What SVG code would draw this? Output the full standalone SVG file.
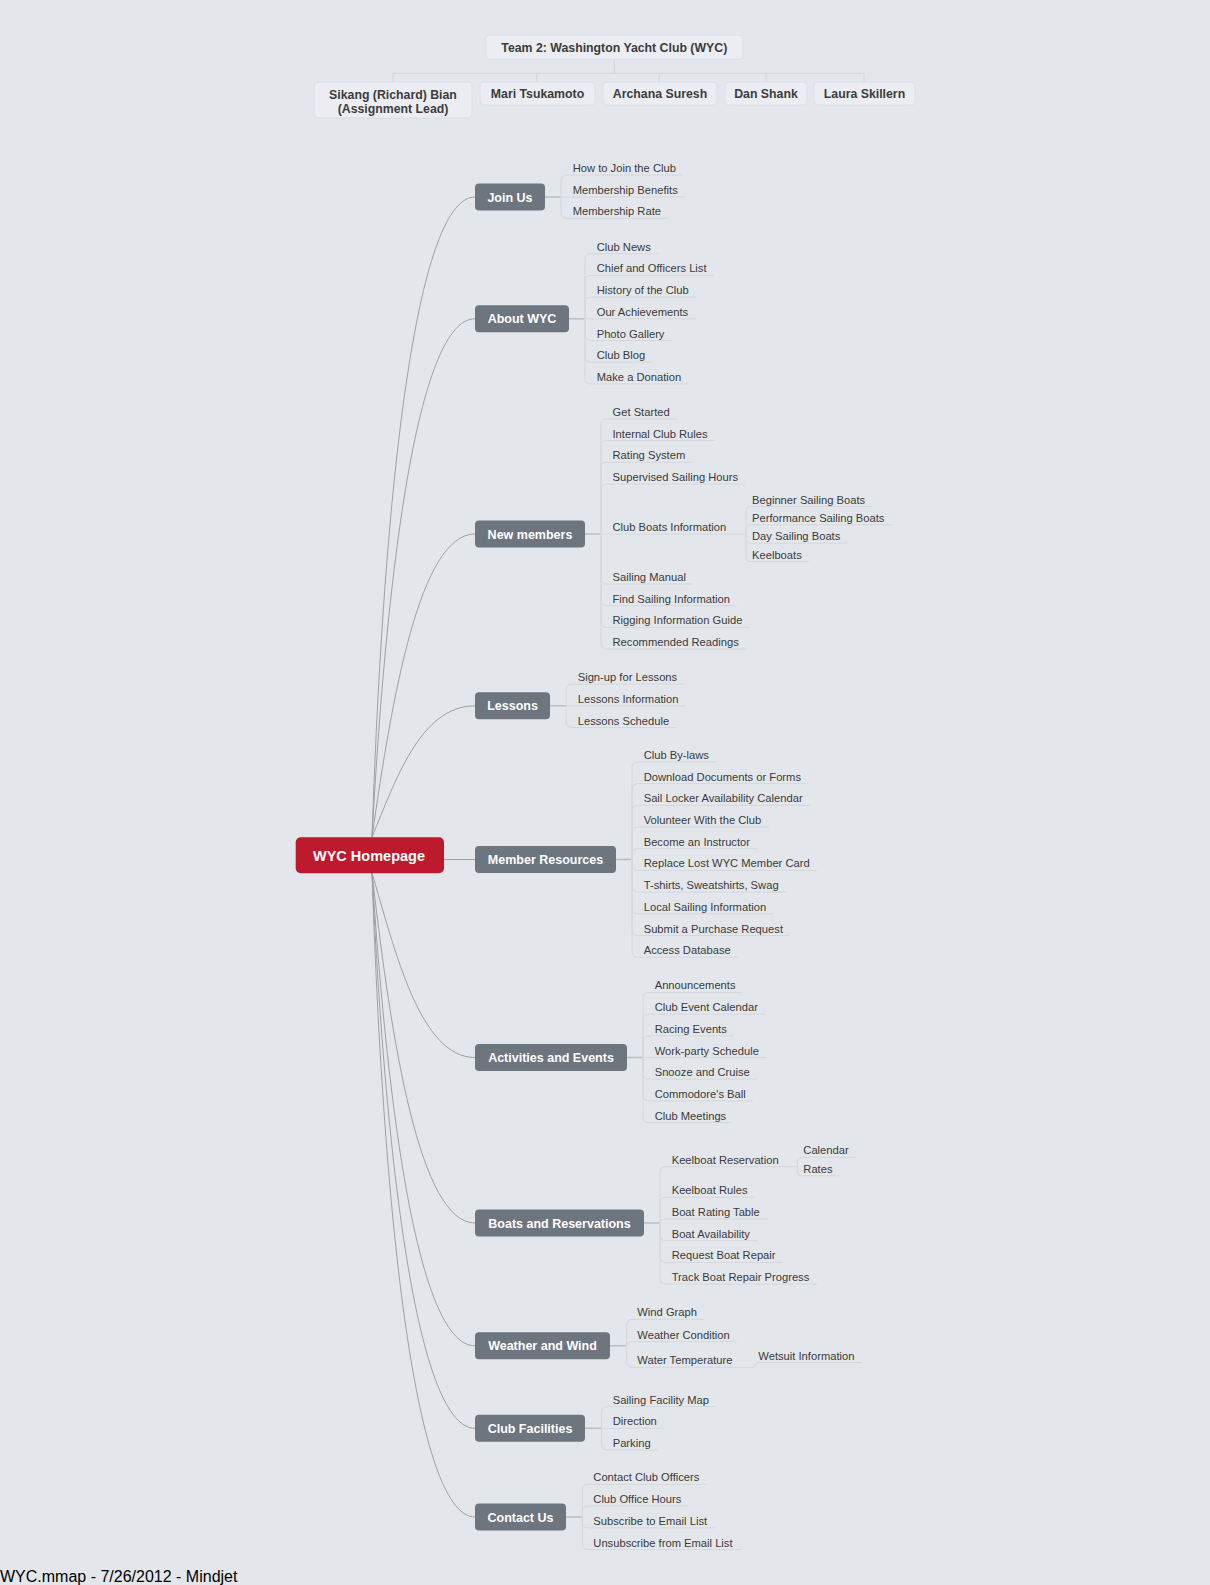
<svg xmlns="http://www.w3.org/2000/svg" width="1210" height="1585" viewBox="0 0 1210 1585">
<style>
text{font-family:"Liberation Sans",Arial,sans-serif}
.bg{fill:#e3e7eb}
.tbox{fill:#ebedf2;stroke:#dcdfe5;stroke-width:1}
.ttxt{font-size:12.3px;font-weight:bold;fill:#3c3c3c;text-anchor:middle}
.tline{fill:none;stroke:#d2d5da;stroke-width:1}
.main{fill:none;stroke:#9da1a6;stroke-width:1}
.pc{fill:none;stroke:#bcc0c5;stroke-width:1.6}
.ul{fill:none;stroke:#d4d8dc;stroke-width:1}
.br rect{fill:#6d757e}
.br text{font-size:12.5px;font-weight:bold;fill:#ffffff;text-anchor:middle}
.lf{font-size:11.2px;fill:#3a3a3a}
.root rect{fill:#bd1a2d}
.root text{font-size:14.5px;font-weight:bold;fill:#ffffff;text-anchor:middle}
.foot{font-size:16px;fill:#000000}
</style>
<rect class="bg" x="0" y="0" width="1210" height="1585"/>

<g id="connectors">
  <path class="tline" d="M614.3 59.3 L614.3 73.3 M393 73.3 L864 73.3 M393 73.3 L393 82 M536.7 73.3 L536.7 82 M659 73.3 L659 82 M766 73.3 L766 82 M864 73.3 L864 82"/>
  <path class="main" d="M372 837 C385 453.3 420 197 475 197"/>
  <path class="main" d="M372 837 C387.6 551 420 318.8 475 318.8"/>
  <path class="main" d="M372 837 C392.3 695.2 420 534 475 534"/>
  <path class="main" d="M372 837 C395 782 420 705.8 475 705.8"/>
  <path class="main" d="M444 859.5 L475 859.5"/>
  <path class="main" d="M372 873 C395 950.5 420 1057.5 475 1057.5"/>
  <path class="main" d="M372 873 C391.3 1043.4 420 1223 475 1223"/>
  <path class="main" d="M372 873 C388.6 1126 420 1345.8 475 1345.8"/>
  <path class="main" d="M372 873 C386.8 1187.7 420 1428.3 475 1428.3"/>
  <path class="main" d="M372 873 C385 1259.4 420 1517 475 1517"/>
  <path class="pc" d="M545 197 L561 197"/>
  <path class="ul" d="M561 197 L561 181 Q561 175 567 175 L683 175"/>
  <path class="ul" d="M561 197 L685 197"/>
  <path class="ul" d="M561 197 L561 212.3 Q561 218.3 567 218.3 L668 218.3"/>
  <path class="pc" d="M569 318.8 L585 318.8"/>
  <path class="ul" d="M585 318.8 L585 259.7 Q585 253.7 591 253.7 L657.8 253.7"/>
  <path class="ul" d="M585 318.8 L585 281.4 Q585 275.4 591 275.4 L713.9 275.4"/>
  <path class="ul" d="M585 318.8 L585 303.1 Q585 297.1 591 297.1 L695.8 297.1"/>
  <path class="ul" d="M585 318.8 L695.8 318.8"/>
  <path class="ul" d="M585 318.8 L585 334.5 Q585 340.5 591 340.5 L671.5 340.5"/>
  <path class="ul" d="M585 318.8 L585 356.2 Q585 362.2 591 362.2 L652.3 362.2"/>
  <path class="ul" d="M585 318.8 L585 377.9 Q585 383.9 591 383.9 L688.4 383.9"/>
  <path class="pc" d="M585 534 L601 534"/>
  <path class="ul" d="M601 534 L601 424.9 Q601 418.9 607 418.9 L676.8 418.9"/>
  <path class="ul" d="M601 534 L601 446.6 Q601 440.6 607 440.6 L714.7 440.6"/>
  <path class="ul" d="M601 534 L601 468.3 Q601 462.3 607 462.3 L692.3 462.3"/>
  <path class="ul" d="M601 534 L601 490 Q601 484 607 484 L745.2 484"/>
  <path class="ul" d="M601 534 L746 534"/>
  <path class="ul" d="M601 534 L601 578 Q601 584 607 584 L692.9 584"/>
  <path class="ul" d="M601 534 L601 599.7 Q601 605.7 607 605.7 L737.1 605.7"/>
  <path class="ul" d="M601 534 L601 621.4 Q601 627.4 607 627.4 L749.6 627.4"/>
  <path class="ul" d="M601 534 L601 643.1 Q601 649.1 607 649.1 L745.9 649.1"/>
  <path class="ul" d="M746 534 L746 511.5 Q746 506.5 751 506.5 L872.3 506.5"/>
  <path class="ul" d="M746 534 L746 529.8 Q746 524.8 751 524.8 L891.6 524.8"/>
  <path class="ul" d="M746 534 L746 538.2 Q746 543.2 751 543.2 L847.4 543.2"/>
  <path class="ul" d="M746 534 L746 556.5 Q746 561.5 751 561.5 L808.8 561.5"/>
  <path class="pc" d="M550 705.8 L566 705.8"/>
  <path class="ul" d="M566 705.8 L566 690.1 Q566 684.1 572 684.1 L684.3 684.1"/>
  <path class="ul" d="M566 705.8 L685.5 705.8"/>
  <path class="ul" d="M566 705.8 L566 721.5 Q566 727.5 572 727.5 L676.2 727.5"/>
  <path class="pc" d="M616 859.5 L632 859.5"/>
  <path class="ul" d="M632 859.5 L632 767.9 Q632 761.9 638 761.9 L716 761.9"/>
  <path class="ul" d="M632 859.5 L632 789.6 Q632 783.6 638 783.6 L808.2 783.6"/>
  <path class="ul" d="M632 859.5 L632 811.3 Q632 805.3 638 805.3 L810.7 805.3"/>
  <path class="ul" d="M632 859.5 L632 833 Q632 827 638 827 L769 827"/>
  <path class="ul" d="M632 859.5 L632 854.7 Q632 848.7 638 848.7 L757.1 848.7"/>
  <path class="ul" d="M632 859.5 L632 864.4 Q632 870.4 638 870.4 L816.9 870.4"/>
  <path class="ul" d="M632 859.5 L632 886.1 Q632 892.1 638 892.1 L786.4 892.1"/>
  <path class="ul" d="M632 859.5 L632 907.8 Q632 913.8 638 913.8 L773.3 913.8"/>
  <path class="ul" d="M632 859.5 L632 929.5 Q632 935.5 638 935.5 L790.1 935.5"/>
  <path class="ul" d="M632 859.5 L632 951.2 Q632 957.2 638 957.2 L737.8 957.2"/>
  <path class="pc" d="M627 1057.5 L643 1057.5"/>
  <path class="ul" d="M643 1057.5 L643 998.4 Q643 992.4 649 992.4 L742.6 992.4"/>
  <path class="ul" d="M643 1057.5 L643 1020.1 Q643 1014.1 649 1014.1 L765 1014.1"/>
  <path class="ul" d="M643 1057.5 L643 1041.8 Q643 1035.8 649 1035.8 L733.9 1035.8"/>
  <path class="ul" d="M643 1057.5 L766.3 1057.5"/>
  <path class="ul" d="M643 1057.5 L643 1073.2 Q643 1079.2 649 1079.2 L756.9 1079.2"/>
  <path class="ul" d="M643 1057.5 L643 1094.9 Q643 1100.9 649 1100.9 L752.8 1100.9"/>
  <path class="ul" d="M643 1057.5 L643 1116.6 Q643 1122.6 649 1122.6 L732.2 1122.6"/>
  <path class="pc" d="M644 1223 L660 1223"/>
  <path class="ul" d="M660 1223 L660 1172.7 Q660 1166.7 666 1166.7 L797.3 1166.7"/>
  <path class="ul" d="M797.3 1166.7 L797.3 1161.3 Q797.3 1157.3 801.3 1157.3 L855.7 1157.3"/>
  <path class="ul" d="M797.3 1166.7 L797.3 1171.7 Q797.3 1175.7 801.3 1175.7 L839.6 1175.7"/>
  <path class="ul" d="M660 1223 L660 1203.3 Q660 1197.3 666 1197.3 L754.6 1197.3"/>
  <path class="ul" d="M660 1223 Q660 1219 666 1219 L768.3 1219"/>
  <path class="ul" d="M660 1223 L660 1234.7 Q660 1240.7 666 1240.7 L757.7 1240.7"/>
  <path class="ul" d="M660 1223 L660 1256.4 Q660 1262.4 666 1262.4 L782.7 1262.4"/>
  <path class="ul" d="M660 1223 L660 1278.1 Q660 1284.1 666 1284.1 L816.9 1284.1"/>
  <path class="pc" d="M610 1345.8 L626.7 1345.8"/>
  <path class="ul" d="M626.7 1345.8 L626.7 1325.3 Q626.7 1319.3 632.7 1319.3 L704.1 1319.3"/>
  <path class="ul" d="M626.7 1345.8 Q626.7 1341.7 632.7 1341.7 L737 1341.7"/>
  <path class="ul" d="M626.7 1345.8 L626.7 1361.3 Q626.7 1367.3 632.7 1367.3 L753 1367.3"/>
  <path class="ul" d="M753 1367.3 C756 1367.3 755 1362.5 759 1362.5 L861.8 1362.5"/>
  <path class="pc" d="M585 1428.3 L601.7 1428.3"/>
  <path class="ul" d="M601.7 1428.3 L601.7 1412.6 Q601.7 1406.6 607.7 1406.6 L716.2 1406.6"/>
  <path class="ul" d="M601.7 1428.3 L663.9 1428.3"/>
  <path class="ul" d="M601.7 1428.3 L601.7 1444 Q601.7 1450 607.7 1450 L657.7 1450"/>
  <path class="pc" d="M566 1517 L582.3 1517"/>
  <path class="ul" d="M582.3 1517 L582.3 1490.4 Q582.3 1484.4 588.3 1484.4 L706.7 1484.4"/>
  <path class="ul" d="M582.3 1517 L582.3 1512.1 Q582.3 1506.1 588.3 1506.1 L688.7 1506.1"/>
  <path class="ul" d="M582.3 1517 L582.3 1521.9 Q582.3 1527.9 588.3 1527.9 L714.2 1527.9"/>
  <path class="ul" d="M582.3 1517 L582.3 1543.6 Q582.3 1549.6 588.3 1549.6 L741.6 1549.6"/>
</g>

<g id="team"><rect class="tbox" x="485.7" y="35" width="257.3" height="24.3" rx="4"/><text class="ttxt" x="614.3" y="52">Team 2: Washington Yacht Club (WYC)</text></g>
<g id="member-bian"><rect class="tbox" x="314" y="82" width="158" height="36" rx="5"/><text class="ttxt" x="393" y="98.5">Sikang (Richard) Bian</text><text class="ttxt" x="393" y="112.5">(Assignment Lead)</text></g>
<g id="member-tsukamoto"><rect class="tbox" x="480" y="82" width="115" height="23" rx="4"/><text class="ttxt" x="537.5" y="98">Mari Tsukamoto</text></g>
<g id="member-suresh"><rect class="tbox" x="603" y="82" width="114" height="23" rx="4"/><text class="ttxt" x="660" y="98">Archana Suresh</text></g>
<g id="member-shank"><rect class="tbox" x="725" y="82" width="82" height="23" rx="4"/><text class="ttxt" x="766" y="98">Dan Shank</text></g>
<g id="member-skillern"><rect class="tbox" x="814" y="82" width="101" height="23" rx="4"/><text class="ttxt" x="864.5" y="98">Laura Skillern</text></g>

<g id="wyc-homepage" class="root"><rect x="295.7" y="837.3" width="148.3" height="36" rx="5"/><text x="369" y="860.8">WYC Homepage</text></g>

<g id="join-us" class="br"><rect x="475" y="183.5" width="70" height="27" rx="4"/><text x="510" y="201.5">Join Us</text></g>
<g id="about-wyc" class="br"><rect x="475" y="305.3" width="94" height="27" rx="4"/><text x="522" y="323.3">About WYC</text></g>
<g id="new-members" class="br"><rect x="475" y="520.5" width="110" height="27" rx="4"/><text x="530" y="538.5">New members</text></g>
<g id="lessons" class="br"><rect x="475" y="692.3" width="75" height="27" rx="4"/><text x="512.5" y="710.3">Lessons</text></g>
<g id="member-resources" class="br"><rect x="475" y="846" width="141" height="27" rx="4"/><text x="545.5" y="864">Member Resources</text></g>
<g id="activities-events" class="br"><rect x="475" y="1044" width="152" height="27" rx="4"/><text x="551" y="1062">Activities and Events</text></g>
<g id="boats-reservations" class="br"><rect x="475" y="1209.5" width="169" height="27" rx="4"/><text x="559.5" y="1227.5">Boats and Reservations</text></g>
<g id="weather-wind" class="br"><rect x="475" y="1332.3" width="135" height="27" rx="4"/><text x="542.5" y="1350.3">Weather and Wind</text></g>
<g id="club-facilities" class="br"><rect x="475" y="1414.8" width="110" height="27" rx="4"/><text x="530" y="1432.8">Club Facilities</text></g>
<g id="contact-us" class="br"><rect x="475" y="1503.5" width="91" height="27" rx="4"/><text x="520.5" y="1521.5">Contact Us</text></g>

<g id="how-to-join"><text class="lf" x="572.7" y="172">How to Join the Club</text></g>
<g id="membership-benefits"><text class="lf" x="572.7" y="194">Membership Benefits</text></g>
<g id="membership-rate"><text class="lf" x="572.7" y="215.3">Membership Rate</text></g>
<g id="club-news"><text class="lf" x="596.7" y="250.7">Club News</text></g>
<g id="chief-officers"><text class="lf" x="596.7" y="272.4">Chief and Officers List</text></g>
<g id="history"><text class="lf" x="596.7" y="294.1">History of the Club</text></g>
<g id="achievements"><text class="lf" x="596.7" y="315.8">Our Achievements</text></g>
<g id="photo-gallery"><text class="lf" x="596.7" y="337.5">Photo Gallery</text></g>
<g id="club-blog"><text class="lf" x="596.7" y="359.2">Club Blog</text></g>
<g id="donation"><text class="lf" x="596.7" y="380.9">Make a Donation</text></g>
<g id="get-started"><text class="lf" x="612.5" y="415.9">Get Started</text></g>
<g id="internal-rules"><text class="lf" x="612.5" y="437.6">Internal Club Rules</text></g>
<g id="rating-system"><text class="lf" x="612.5" y="459.3">Rating System</text></g>
<g id="supervised-hours"><text class="lf" x="612.5" y="481">Supervised Sailing Hours</text></g>
<g id="club-boats-info"><text class="lf" x="612.5" y="531">Club Boats Information</text></g>
<g id="sailing-manual"><text class="lf" x="612.5" y="581">Sailing Manual</text></g>
<g id="find-sailing-info"><text class="lf" x="612.5" y="602.7">Find Sailing Information</text></g>
<g id="rigging-guide"><text class="lf" x="612.5" y="624.4">Rigging Information Guide</text></g>
<g id="recommended-readings"><text class="lf" x="612.5" y="646.1">Recommended Readings</text></g>
<g id="beginner-boats"><text class="lf" x="752" y="503.5">Beginner Sailing Boats</text></g>
<g id="performance-boats"><text class="lf" x="752" y="521.8">Performance Sailing Boats</text></g>
<g id="day-boats"><text class="lf" x="752" y="540.2">Day Sailing Boats</text></g>
<g id="keelboats"><text class="lf" x="752" y="558.5">Keelboats</text></g>
<g id="signup-lessons"><text class="lf" x="577.7" y="681.1">Sign-up for Lessons</text></g>
<g id="lessons-info"><text class="lf" x="577.7" y="702.8">Lessons Information</text></g>
<g id="lessons-schedule"><text class="lf" x="577.7" y="724.5">Lessons Schedule</text></g>
<g id="bylaws"><text class="lf" x="643.7" y="758.9">Club By-laws</text></g>
<g id="download-docs"><text class="lf" x="643.7" y="780.6">Download Documents or Forms</text></g>
<g id="sail-locker"><text class="lf" x="643.7" y="802.3">Sail Locker Availability Calendar</text></g>
<g id="volunteer"><text class="lf" x="643.7" y="824">Volunteer With the Club</text></g>
<g id="become-instructor"><text class="lf" x="643.7" y="845.7">Become an Instructor</text></g>
<g id="replace-card"><text class="lf" x="643.7" y="867.4">Replace Lost WYC Member Card</text></g>
<g id="swag"><text class="lf" x="643.7" y="889.1">T-shirts, Sweatshirts, Swag</text></g>
<g id="local-sailing-info"><text class="lf" x="643.7" y="910.8">Local Sailing Information</text></g>
<g id="purchase-request"><text class="lf" x="643.7" y="932.5">Submit a Purchase Request</text></g>
<g id="access-database"><text class="lf" x="643.7" y="954.2">Access Database</text></g>
<g id="announcements"><text class="lf" x="654.7" y="989.4">Announcements</text></g>
<g id="event-calendar"><text class="lf" x="654.7" y="1011.1">Club Event Calendar</text></g>
<g id="racing-events"><text class="lf" x="654.7" y="1032.8">Racing Events</text></g>
<g id="work-party"><text class="lf" x="654.7" y="1054.5">Work-party Schedule</text></g>
<g id="snooze-cruise"><text class="lf" x="654.7" y="1076.2">Snooze and Cruise</text></g>
<g id="commodores-ball"><text class="lf" x="654.7" y="1097.9">Commodore's Ball</text></g>
<g id="club-meetings"><text class="lf" x="654.7" y="1119.6">Club Meetings</text></g>
<g id="keelboat-reservation"><text class="lf" x="671.7" y="1163.7">Keelboat Reservation</text></g>
<g id="calendar"><text class="lf" x="803.3" y="1154.3">Calendar</text></g>
<g id="rates"><text class="lf" x="803.3" y="1172.7">Rates</text></g>
<g id="keelboat-rules"><text class="lf" x="671.7" y="1194.3">Keelboat Rules</text></g>
<g id="boat-rating-table"><text class="lf" x="671.7" y="1216">Boat Rating Table</text></g>
<g id="boat-availability"><text class="lf" x="671.7" y="1237.7">Boat Availability</text></g>
<g id="request-repair"><text class="lf" x="671.7" y="1259.4">Request Boat Repair</text></g>
<g id="track-repair"><text class="lf" x="671.7" y="1281.1">Track Boat Repair Progress</text></g>
<g id="wind-graph"><text class="lf" x="637.3" y="1316.3">Wind Graph</text></g>
<g id="weather-condition"><text class="lf" x="637.3" y="1338.7">Weather Condition</text></g>
<g id="water-temperature"><text class="lf" x="637.3" y="1364.3">Water Temperature</text></g>
<g id="wetsuit-info"><text class="lf" x="758.3" y="1359.5">Wetsuit Information</text></g>
<g id="facility-map"><text class="lf" x="612.7" y="1403.6">Sailing Facility Map</text></g>
<g id="direction"><text class="lf" x="612.7" y="1425.3">Direction</text></g>
<g id="parking"><text class="lf" x="612.7" y="1447">Parking</text></g>
<g id="contact-officers"><text class="lf" x="593.3" y="1481.4">Contact Club Officers</text></g>
<g id="office-hours"><text class="lf" x="593.3" y="1503.1">Club Office Hours</text></g>
<g id="subscribe"><text class="lf" x="593.3" y="1524.9">Subscribe to Email List</text></g>
<g id="unsubscribe"><text class="lf" x="593.3" y="1546.6">Unsubscribe from Email List</text></g>

<g id="footer"><text class="foot" x="0" y="1582">WYC.mmap - 7/26/2012 - Mindjet</text></g>
</svg>
